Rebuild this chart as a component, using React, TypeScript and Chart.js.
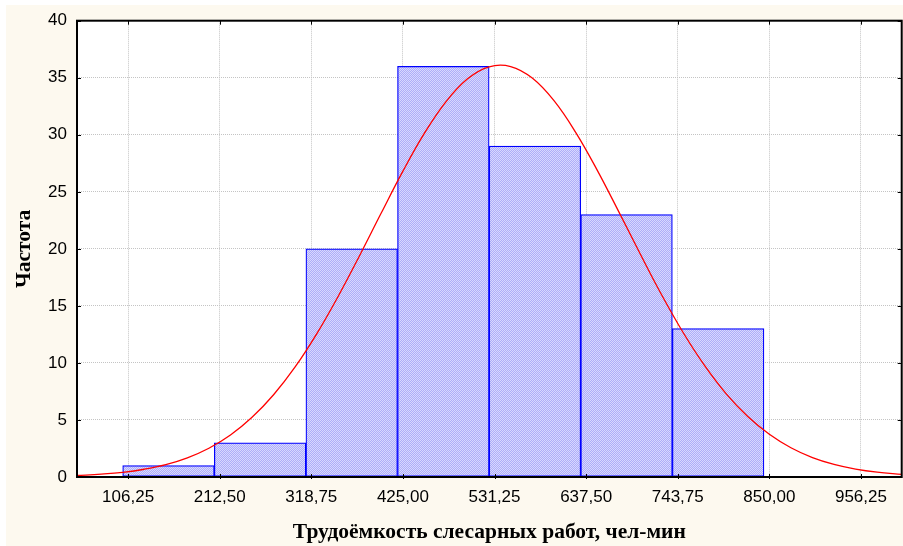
import React, { useEffect, useRef } from "react";
import { Chart, registerables } from "chart.js";

Chart.register(...registerables);

// Histogram bins (lower edge of each bin, bin width) and frequencies
const binStarts = [100, 206.25, 312.5, 418.75, 525, 631.25, 737.5];
const binWidth = 106.25;
const frequencies = [1, 3, 20, 36, 29, 23, 13];

// Fitted normal curve
const curveX = [47, 75, 100, 125, 150, 175, 200, 225, 250, 275, 300, 325, 350, 375, 400, 425, 450, 475, 500, 525, 550, 575, 600, 625, 650, 675, 700, 725, 750, 775, 800, 825, 850, 875, 900, 925, 950, 975, 1003.5];
const curveY = [0.13, 0.25, 0.41, 0.68, 1.08, 1.68, 2.52, 3.68, 5.23, 7.21, 9.65, 12.55, 15.85, 19.44, 23.16, 26.81, 30.14, 32.91, 34.91, 35.96, 35.98, 34.97, 33.01, 30.26, 26.95, 23.31, 19.59, 15.98, 12.67, 9.76, 7.29, 5.3, 3.74, 2.56, 1.7, 1.1, 0.69, 0.42, 0.23];

// Axes
const xTickValues = [106.25, 212.5, 318.75, 425, 531.25, 637.5, 743.75, 850, 956.25];
const xTickLabels = ["106,25", "212,50", "318,75", "425,00", "531,25", "637,50", "743,75", "850,00", "956,25"];
const xMin = 47;
const xMax = 1003.5;
const yMin = 0;
const yMax = 40;
const yStep = 5;

const xTitle = "Трудоёмкость слесарных работ, чел-мин";
const yTitle = "Частота";

function makePattern(): CanvasPattern | string {
  const c = document.createElement("canvas");
  c.width = 2;
  c.height = 2;
  const g = c.getContext("2d");
  if (!g) return "#c4c4f8";
  g.fillStyle = "#d8d8ff";
  g.fillRect(0, 0, 2, 2);
  g.fillStyle = "#aeaef8";
  g.fillRect(0, 0, 1, 1);
  g.fillRect(1, 1, 1, 1);
  return g.createPattern(c, "repeat") || "#c4c4f8";
}

const bgPlugin = {
  id: "bgPlugin",
  beforeDraw(chart: any) {
    const { ctx, width, height, chartArea } = chart;
    ctx.save();
    ctx.fillStyle = "#fdf9ef";
    ctx.fillRect(0, 0, width, height);
    ctx.fillStyle = "#ffffff";
    ctx.fillRect(chartArea.left, chartArea.top, chartArea.right - chartArea.left, chartArea.bottom - chartArea.top);
    ctx.restore();
  },
  afterDatasetsDraw(chart: any) {
    const { ctx, chartArea, scales } = chart;
    const { left, top, right, bottom } = chartArea;
    const x = scales.x;
    const y = scales.y;
    ctx.save();
    ctx.strokeStyle = "#000000";
    ctx.lineWidth = 1;
    ctx.beginPath();
    x.ticks.forEach((t: any) => {
      const px = Math.round(x.getPixelForValue(t.value)) + 0.5;
      ctx.moveTo(px, top);
      ctx.lineTo(px, top + 4);
      ctx.moveTo(px, bottom + 2);
      ctx.lineTo(px, bottom - 3);
    });
    y.ticks.forEach((t: any) => {
      const py = Math.round(y.getPixelForValue(t.value)) + 0.5;
      ctx.moveTo(left, py);
      ctx.lineTo(left + 4, py);
      ctx.moveTo(right, py);
      ctx.lineTo(right - 4, py);
    });
    ctx.stroke();
    ctx.lineWidth = 2;
    ctx.strokeRect(left, top, right - left, bottom - top);
    ctx.restore();
  },
};

export default function App() {
  const ref = useRef<HTMLCanvasElement | null>(null);
  useEffect(() => {
    if (!ref.current) return;
    const pattern = makePattern();
    const barData = binStarts.map((s, i) => ({ x: s + binWidth / 2, y: frequencies[i] }));
    const curveData = curveX.map((v, i) => ({ x: v, y: curveY[i] }));
    const chart = new Chart(ref.current, {
      type: "line",
      data: {
        datasets: [
          {
            type: "line",
            data: curveData,
            borderColor: "#ff0000",
            borderWidth: 1.3,
            pointRadius: 0,
            tension: 0.4,
            fill: false,
            order: 0,
          } as any,
          {
            type: "bar",
            data: barData,
            backgroundColor: pattern as any,
            borderColor: "#0000ff",
            borderWidth: 1.25,
            borderSkipped: false,
            barPercentage: 1,
            categoryPercentage: 1,
            order: 1,
          } as any,
        ],
      },
      options: {
        animation: false,
        responsive: true,
        maintainAspectRatio: false,
        layout: { padding: { left: 0, top: 15.7, right: 1.3, bottom: 0 } },
        plugins: { legend: { display: false }, tooltip: { enabled: false } },
        scales: {
          x: {
            type: "linear",
            min: xMin,
            max: xMax,
            offset: false,
            afterBuildTicks: (scale: any) => {
              scale.ticks = xTickValues.map((v) => ({ value: v }));
            },
            afterFit: (scale: any) => {
              scale.height = 69;
              scale.paddingLeft = 0;
              scale.paddingRight = 0;
            },
            ticks: {
              autoSkip: false,
              maxRotation: 0,
              padding: 10,
              color: "#000000",
              font: { family: "'Liberation Sans', Arial, sans-serif", size: 17 },
              callback: (value: any) => {
                const i = xTickValues.indexOf(Number(value));
                return i >= 0 ? xTickLabels[i] : "";
              },
            },
            grid: { offset: false, drawTicks: false, color: "#c4c4c4", lineWidth: 1 },
            border: { display: false, dash: [1, 1] },
            title: {
              display: true,
              text: xTitle,
              color: "#000000",
              font: { family: "'Liberation Serif', 'Times New Roman', serif", size: 21.5, weight: "bold" },
              padding: { top: 0, bottom: 1 },
            },
          },
          y: {
            type: "linear",
            min: yMin,
            max: yMax,
            afterFit: (scale: any) => {
              scale.width = 71;
              scale.paddingTop = 0;
              scale.paddingBottom = 0;
            },
            ticks: {
              stepSize: yStep,
              padding: 10,
              color: "#000000",
              font: { family: "'Liberation Sans', Arial, sans-serif", size: 17 },
            },
            grid: { drawTicks: false, color: "#c4c4c4", lineWidth: 1 },
            border: { display: false, dash: [1, 1] },
            title: {
              display: true,
              text: yTitle,
              color: "#000000",
              font: { family: "'Liberation Serif', 'Times New Roman', serif", size: 21.5, weight: "bold" },
              padding: { top: 5.6, bottom: 0 },
            },
          },
        },
      },
      plugins: [bgPlugin],
    } as any);
    return () => chart.destroy();
  }, []);
  return (
    <div style={{ position: "fixed", left: 6, top: 5, width: 897, height: 541 }}>
      <canvas ref={ref} />
    </div>
  );
}
